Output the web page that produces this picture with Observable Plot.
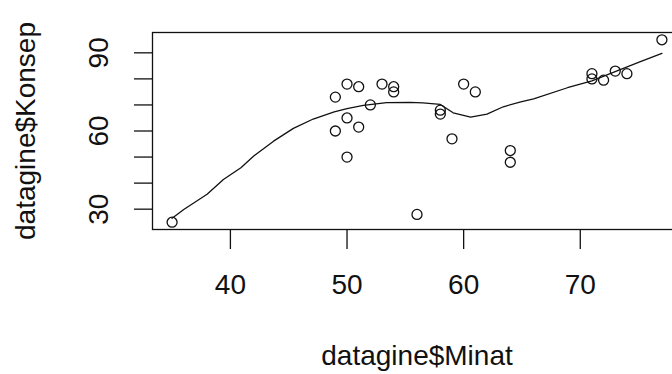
<!DOCTYPE html>
<html>
<head>
<meta charset="utf-8">
<script src="https://cdn.jsdelivr.net/npm/d3@7"></script>
<script src="https://cdn.jsdelivr.net/npm/@observablehq/plot@0.6"></script>
<style>
  html, body { margin: 0; padding: 0; background: #fff; overflow: hidden; }
</style>
</head>
<body>
<div id="chart"></div>
<script>
// Scatter points (datagine$Minat, datagine$Konsep)
const minat  = [35, 49, 49, 50, 51, 53, 54, 54, 52, 50, 51, 50, 56, 58, 58, 59, 60, 61, 64, 64, 71, 71, 72, 73, 74, 77];
const konsep = [25, 73, 60, 78, 77, 78, 77, 75, 70, 65, 61.5, 50, 28, 68, 66.5, 57, 78, 75, 52.5, 48, 82, 80, 79.5, 83, 82, 95];

// Smooth curve
const curveX = [35, 36, 38, 39.4, 40.9, 42, 43.7, 45.4, 47.1, 48.9, 50, 51.4, 53.4, 55.4, 56.5, 58, 59.1, 60.6, 62, 63.4, 64.9, 66, 68.9, 71, 73.1, 75.1, 77];
const curveY = [26.5, 29.9, 35.7, 41.4, 45.9, 50.4, 56.1, 61, 64.6, 67.3, 68.6, 69.8, 70.9, 71, 70.8, 70.2, 67, 65.3, 66.5, 69.3, 71.2, 72.3, 76.6, 79.2, 83, 86.5, 89.8];

// Ticks and labels
const xTicks = [40, 50, 60, 70];
const yTicks = [30, 40, 50, 60, 70, 80, 90];
const yTickLabels = [30, 60, 90];
const xTitle = "datagine$Minat";
const yTitle = "datagine$Konsep";

const points = minat.map((m, i) => ({x: m, y: konsep[i]}));
const curve = curveX.map((m, i) => ({x: m, y: curveY[i]}));

const FS = 28;
const ink = "#111";

const chart = Plot.plot({
  width: 672,
  height: 374,
  marginLeft: 152,
  marginRight: -9,
  marginTop: 32,
  marginBottom: 145,
  style: {fontFamily: "'Liberation Sans', Arial, sans-serif", fontSize: FS + "px", color: ink, background: "#fff", overflow: "hidden"},
  x: {domain: [33.32, 78.68], axis: null},
  y: {domain: [22.2, 97.8], axis: null},
  marks: [
    Plot.frame({stroke: ink, strokeWidth: 1.3}),
    Plot.axisX({ticks: xTicks, tickSize: 20, tickFormat: () => "", label: null, stroke: ink, strokeWidth: 1.3}),
    Plot.axisY({ticks: yTicks, tickSize: 18, tickFormat: () => "", label: null, stroke: ink, strokeWidth: 1.3}),
    Plot.text(xTicks, {x: d => d, frameAnchor: "bottom", dy: 56, text: d => String(d), fill: ink, fontSize: FS, lineAnchor: "middle"}),
    Plot.text(yTickLabels, {y: d => d, frameAnchor: "left", dx: -53, rotate: -90, text: d => String(d), fill: ink, fontSize: FS, lineAnchor: "middle", textAnchor: "middle"}),
    Plot.text([xTitle], {frameAnchor: "bottom", dy: 127, text: d => d, fill: ink, fontSize: FS, lineAnchor: "middle"}),
    Plot.text([yTitle], {frameAnchor: "left", dx: -126, rotate: -90, text: d => d, fill: ink, fontSize: FS, lineAnchor: "middle", textAnchor: "middle"}),
    Plot.line(curve, {x: "x", y: "y", stroke: ink, strokeWidth: 1.3}),
    Plot.dot(points, {x: "x", y: "y", r: 5, stroke: ink, fill: "none", strokeWidth: 1.3})
  ]
});
document.getElementById("chart").appendChild(chart);
</script>
</body>
</html>
